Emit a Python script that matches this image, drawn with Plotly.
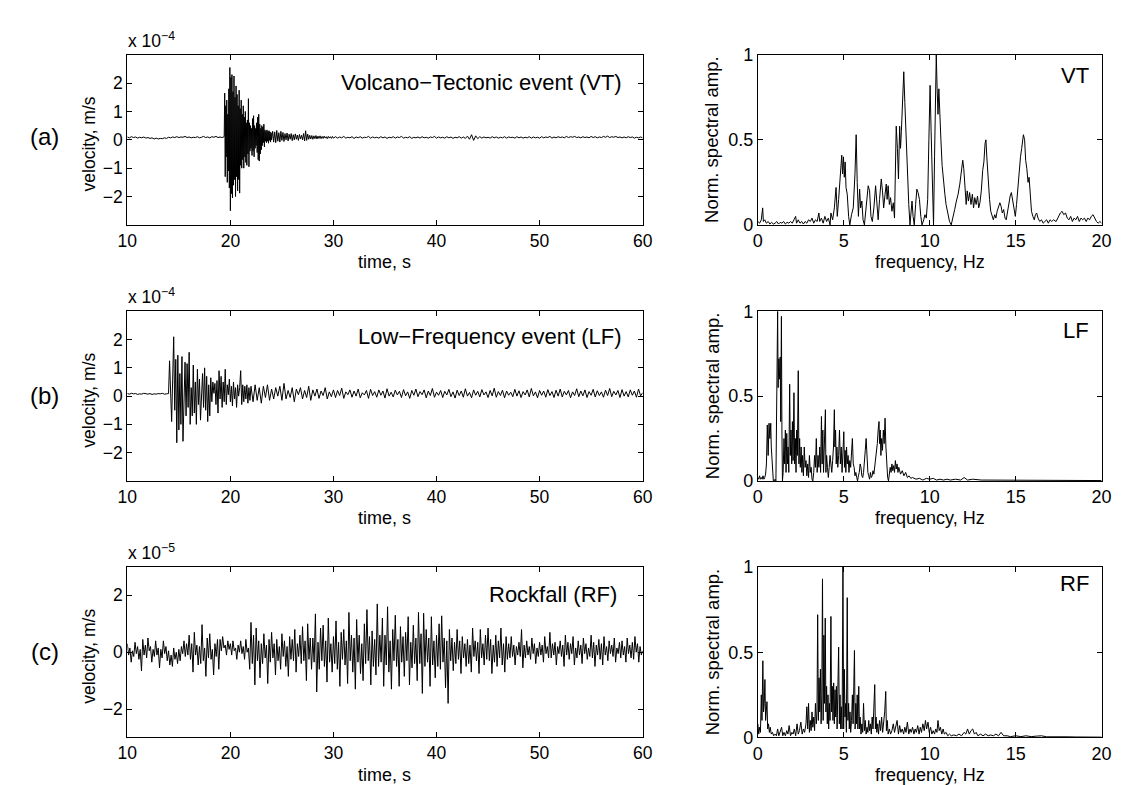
import plotly.graph_objects as go

WIDTH, HEIGHT = 1121, 785
FONT = 'Liberation Sans, Arial, Helvetica, sans-serif'

# ---- seismograms (velocity, VT/LF in 1e-4 m/s, RF in 1e-5 m/s) ----
# VT: 10.0-19.4 s every 0.2 s
vt_pre = [0.10, 0.07, 0.11, 0.08, 0.10, 0.06, 0.09, 0.07, 0.10, 0.06,
          0.08, 0.05, 0.07, 0.03, 0.06, 0.03, 0.05, 0.04, 0.07, 0.05,
          0.09, 0.07, 0.10, 0.08, 0.11, 0.08, 0.10, 0.09, 0.12, 0.08,
          0.10, 0.07, 0.09, 0.08, 0.11, 0.07, 0.09, 0.12, 0.08, 0.10,
          0.07, 0.11, 0.09, 0.12, 0.08, 0.10, 0.08, 0.11]
# VT: 19.45-24.0 s every 0.05 s
vt_burst = [1.65, -1.30, 1.20, -0.60, 1.40, -1.50, 0.90, -1.10, 1.80, -1.70,
            2.55, -2.50, 2.20, -1.90, 2.30, -2.05, 1.70, -1.60, 2.25, -1.40,
            1.50, -2.00, 1.90, -1.30, 1.60, -1.80, 1.20, -1.40, 1.75, -1.88,
            1.10, -0.90, 1.40, -1.00, 0.90, -0.70, 1.20, -1.00, 0.80, -0.60,
            1.00, -0.80, 0.60, -0.90, 0.70, -0.50, 1.45, -0.95, 0.60, -0.40,
            0.50, -0.30, 0.40, -0.55, 0.75, -0.40, 0.85, -0.60, 0.50, -0.30,
            0.40, -0.20, 0.60, -0.45, 0.80, -0.70, 0.90, -0.75, 0.55, -0.50,
            0.40, -0.35, 0.50, -0.20, 0.45, -0.10, 0.55, -0.25, 0.35, -0.05,
            0.30, -0.10, 0.35, -0.05, 0.30, -0.12, 0.32, -0.02, 0.28, -0.08,
            0.25, 0.00]
# VT: 24.1-30.0 s every 0.1 s
vt_coda = [0.30, -0.08, 0.28, -0.10, 0.33, -0.05, 0.25, -0.08, 0.30, -0.02,
           0.26, -0.06, 0.22, 0.00, 0.24, -0.04, 0.20, 0.02, 0.22, -0.03,
           0.18, 0.00, 0.21, 0.02, 0.17, -0.02, 0.19, 0.03, 0.16, 0.00,
           0.22, -0.04, 0.32, -0.02, 0.20, 0.02, 0.16, 0.03, 0.15, 0.02,
           0.14, 0.04, 0.15, 0.03, 0.13, 0.05, 0.14, 0.04, 0.12, 0.05,
           0.13, 0.06, 0.11, 0.04, 0.12, 0.06, 0.11, 0.05, 0.12, 0.06]
# VT: 30.2-60.0 s every 0.2 s
vt_post = [0.11, 0.06, 0.10, 0.07, 0.12, 0.06, 0.09, 0.07, 0.11, 0.05,
           0.10, 0.07, 0.11, 0.06, 0.09, 0.08, 0.12, 0.06, 0.10, 0.07,
           0.09, 0.06, 0.11, 0.07, 0.10, 0.05, 0.09, 0.07, 0.11, 0.06,
           0.10, 0.08, 0.12, 0.06, 0.09, 0.07, 0.11, 0.05, 0.09, 0.07,
           0.10, 0.06, 0.11, 0.07, 0.09, 0.06, 0.10, 0.08, 0.12, 0.06,
           0.10, 0.07, 0.09, 0.06, 0.11, 0.07, 0.10, 0.05, 0.09, 0.07,
           0.11, 0.06, 0.10, 0.05, 0.13, 0.02, 0.18, -0.02, 0.14, 0.04,
           0.11, 0.06, 0.10, 0.07, 0.09, 0.06, 0.11, 0.07, 0.10, 0.06,
           0.09, 0.07, 0.11, 0.06, 0.10, 0.08, 0.09, 0.06, 0.11, 0.07,
           0.10, 0.06, 0.09, 0.07, 0.11, 0.06, 0.10, 0.07, 0.09, 0.06,
           0.11, 0.07, 0.10, 0.08, 0.12, 0.06, 0.10, 0.07, 0.11, 0.08,
           0.10, 0.07, 0.12, 0.08, 0.11, 0.09, 0.12, 0.08, 0.10, 0.07,
           0.11, 0.08, 0.10, 0.07, 0.12, 0.08, 0.11, 0.07, 0.10, 0.08,
           0.12, 0.09, 0.13, 0.08, 0.11, 0.09, 0.12, 0.08, 0.10, 0.07,
           0.10, 0.07, 0.11, 0.08, 0.10, 0.06, 0.09, 0.07, 0.10, 0.07]

# LF: 10.0-14.0 s every 0.2 s
lf_pre = [0.09, 0.07, 0.10, 0.08, 0.09, 0.06, 0.08, 0.07, 0.10, 0.08,
          0.07, 0.09, 0.06, 0.08, 0.07, 0.09, 0.08, 0.10, 0.07, 0.08, 0.09]
# LF: 14.1-22.0 s every 0.1 s
lf_burst = [1.25, -0.30, -0.90, 0.60, 2.10, -0.50, 1.30, -1.65, 1.45,
            -1.20, 0.80, -1.00, 1.40, -1.60, 0.40, 1.20, -0.70, 1.15, -0.40,
            1.55, -1.00, 0.30, -0.70, 1.10, -0.60, 0.50, -1.00, 0.95, -0.30,
            0.60, -0.85, 0.20, 0.80, -0.40, 1.00, -0.50, 0.70, -0.90, 0.40,
            -0.70, 0.65, -0.20, 0.50, 0.10, 0.45, -0.30, 0.55, -0.60, 0.90,
            -0.10, 0.70, -0.40, 0.50, -0.20, 0.95, -0.30, 0.40, 0.05, 0.60,
            -0.20, 0.35, -0.35, 0.50, -0.10, 0.30, -0.40, 0.40, 0.00, 0.30,
            0.90, -0.30, 0.40, -0.20, 0.35, -0.10, 0.40, -0.25, 0.30, -0.15,
            0.35]
# LF: 22.2-60.0 s every 0.2 s
lf_coda = [-0.20, 0.40, -0.15, 0.30, -0.25, 0.35, -0.05, 0.40, -0.15, 0.25,
           -0.10, 0.30, 0.00, 0.35, -0.15, 0.45, -0.10, 0.20, -0.05, 0.30,
           -0.20, 0.25, 0.05, 0.30, -0.10, 0.20, -0.05, 0.35, -0.15, 0.22,
           0.00, 0.25, -0.08, 0.18, 0.02, 0.30, -0.10, 0.15, -0.02, 0.22,
           -0.05, 0.20, 0.02, 0.28, -0.08, 0.15, 0.05, 0.22, -0.04, 0.18,
           0.00, 0.25, -0.06, 0.12, 0.04, 0.20, -0.08, 0.24, 0.02, 0.16,
           -0.04, 0.22, 0.03, 0.18, -0.07, 0.26, 0.00, 0.14, -0.03, 0.21,
           0.04, 0.17, -0.05, 0.23, 0.01, 0.15, -0.08, 0.20, 0.03, 0.25,
           -0.02, 0.16, 0.05, 0.22, -0.06, 0.18, 0.02, 0.27, -0.04, 0.14,
           0.03, 0.20, -0.05, 0.17, 0.04, 0.24, -0.02, 0.15, -0.07, 0.21,
           0.02, 0.18, -0.04, 0.26, 0.00, 0.13, -0.06, 0.22, 0.03, 0.17,
           -0.03, 0.23, 0.04, 0.15, -0.05, 0.20, 0.01, 0.28, -0.04, 0.16,
           0.02, 0.21, -0.06, 0.18, 0.03, 0.14, -0.02, 0.24, 0.00, 0.19,
           -0.05, 0.16, 0.04, 0.22, -0.03, 0.27, 0.01, 0.15, -0.06, 0.20,
           0.03, 0.18, -0.04, 0.23, 0.02, 0.16, -0.05, 0.21, 0.00, 0.25,
           -0.03, 0.17, 0.04, 0.20, -0.06, 0.15, 0.02, 0.26, -0.02, 0.18,
           0.01, 0.22, -0.05, 0.16, 0.03, 0.24, -0.03, 0.19, 0.02, 0.15,
           -0.04, 0.21, 0.02, 0.27, -0.02, 0.17, 0.04, 0.20, -0.05, 0.23,
           0.00, 0.16, -0.03, 0.22, 0.03, 0.18, -0.04, 0.25, 0.01, 0.12]

# RF: 10.0-60.0 s every 0.125 s (one row per second)
rf_vel = [0.30, -0.10, 0.15, -0.35, 0.05, -0.15, 0.35, -0.05,
          0.20, -0.25, 0.10, -0.66, 0.45, -0.10, 0.25, -0.20,
          0.50, 0.05, 0.20, -0.35, 0.10, -0.15, 0.40, -0.10,
          0.15, -0.55, 0.10, -0.20, 0.40, -0.05, 0.20, -0.30,
          0.05, -0.45, -0.10, -0.50, 0.15, -0.25, 0.00, -0.40,
          0.10, -0.30, 0.20, -0.05, 0.40, -0.15, 0.30, -0.10,
          0.60, -0.25, 0.30, -0.70, 0.70, -0.10, 0.25, -0.45,
          0.20, -0.40, 0.97, -0.30, 0.15, -0.85, 0.50, -0.20,
          0.65, -0.25, 0.10, -0.80, 0.30, -0.15, 0.45, -0.60,
          0.45, 0.05, 0.55, 0.15, 0.25, -0.10, 0.40, 0.10,
          0.30, -0.10, 0.40, 0.05, 0.15, -0.25, 0.25, 0.00,
          0.40, -0.05, 0.20, -0.25, 0.45, 0.00, 0.15, -0.60,
          1.05, -0.40, 0.60, -1.15, 0.85, -0.30, 0.40, -0.90,
          0.30, -0.40, 0.65, -0.20, 0.25, -1.10, 0.45, -0.35,
          0.70, -0.20, 0.30, -0.80, 0.45, -0.30, 0.20, -0.60,
          0.65, -0.15, 0.40, -0.50, 0.20, -0.85, 0.55, -0.25,
          0.45, -0.30, 0.80, -0.70, 0.30, -0.15, 0.60, -0.40,
          0.90, -0.30, 0.40, -1.00, 1.00, -0.25, 0.50, -0.60,
          0.50, -0.35, 1.35, -1.40, 0.35, -0.60, 0.85, -0.30,
          0.95, -0.50, 0.40, -1.05, 1.20, -0.35, 0.30, -0.70,
          0.55, -0.40, 1.10, -0.60, 0.35, -1.20, 0.70, -0.25,
          0.80, -0.45, 0.40, -1.10, 1.40, -0.30, 0.60, -0.70,
          0.50, -1.30, 1.15, -0.35, 0.60, -0.75, 0.30, -1.00,
          1.00, -0.40, 1.50, -0.30, 0.55, -1.15, 0.75, -0.50,
          0.45, -0.80, 1.70, -0.50, 0.60, -0.35, 1.20, -1.20,
          0.60, -0.45, 1.60, -0.70, 0.40, -1.30, 0.80, -0.30,
          1.30, -0.50, 0.45, -1.20, 0.90, -0.35, 0.55, -0.85,
          0.70, -0.30, 1.25, -1.15, 0.35, -0.55, 0.95, -0.40,
          0.50, -1.00, 1.40, -0.40, 0.65, -1.45, 1.37, -0.50,
          0.80, -0.35, 0.50, -1.20, 1.25, -0.45, 0.40, -0.90,
          0.60, -0.50, 1.00, -0.60, 1.28, -0.35, 0.50, -1.25,
          0.40, -1.80, 0.80, -0.30, 0.50, -0.65, 0.35, -0.40,
          0.80, -0.25, 0.40, -0.75, 0.55, -0.20, 0.30, -0.50,
          0.45, -0.40, 0.25, -0.70, 0.85, -0.15, 0.40, -0.30,
          0.35, -0.75, 0.80, -0.20, 0.30, -0.45, 0.60, -0.25,
          0.85, -0.30, 0.45, -0.75, 0.25, -0.35, 0.60, -0.50,
          0.40, -0.20, 0.85, -0.45, 0.30, -0.70, 0.55, -0.25,
          0.30, -0.20, 0.55, -0.15, 0.25, -0.45, 0.20, -0.10,
          0.35, -0.15, 0.80, -0.55, 0.25, -0.20, 0.40, -0.10,
          0.20, -0.25, 0.50, -0.05, 0.30, -0.40, 0.15, -0.15,
          0.35, -0.10, 0.25, -0.35, 0.55, -0.05, 0.20, -0.20,
          0.70, -0.20, 0.30, -0.10, 0.35, -0.45, 0.20, -0.05,
          0.40, -0.15, 0.25, -0.50, 0.60, -0.10, 0.35, -0.25,
          0.30, -0.05, 0.55, -0.45, 0.15, -0.20, 0.40, -0.10,
          0.25, -0.40, 0.50, -0.05, 0.30, -0.25, 0.15, -0.15,
          0.60, -0.20, 0.35, -0.50, 0.25, -0.10, 0.45, -0.25,
          0.30, -0.45, 0.55, -0.10, 0.20, -0.30, 0.40, -0.05,
          0.25, -0.15, 0.50, -0.35, 0.15, -0.05, 0.35, -0.20,
          0.40, -0.10, 0.20, -0.35, 0.50, -0.05, 0.25, -0.20,
          0.35, -0.25, 0.55, 0.00, 0.30, -0.35, 0.20, -0.10,
          0.05]

# ---- normalised spectra ----
vt_freq = [0.00, 0.10, 0.20, 0.28, 0.32, 0.40, 0.50, 0.60, 0.70, 0.80,
           0.90, 1.00, 1.10, 1.20, 1.30, 1.40, 1.50, 1.60, 1.70, 1.80,
           1.90, 2.00, 2.10, 2.20, 2.25, 2.35, 2.45, 2.55, 2.65, 2.75,
           2.85, 2.95, 3.05, 3.15, 3.25, 3.35, 3.45, 3.55, 3.60, 3.70,
           3.80, 3.90, 4.00, 4.10, 4.20, 4.25, 4.35, 4.45, 4.55, 4.62,
           4.70, 4.80, 4.88, 4.93, 4.98, 5.03, 5.08, 5.13, 5.20, 5.28,
           5.35, 5.45, 5.55, 5.65, 5.72, 5.78, 5.85, 5.92, 5.98, 6.05,
           6.12, 6.20, 6.30, 6.42, 6.50, 6.58, 6.66, 6.75, 6.85, 6.92,
           7.00, 7.08, 7.18, 7.25, 7.32, 7.40, 7.47, 7.52, 7.58, 7.65,
           7.72, 7.80, 7.88, 7.95, 8.00, 8.05, 8.12, 8.18, 8.25, 8.30,
           8.35, 8.42, 8.49, 8.55, 8.62, 8.70, 8.78, 8.85, 8.92, 8.97,
           9.03, 9.10, 9.18, 9.25, 9.32, 9.40, 9.48, 9.55, 9.65, 9.72,
           9.80, 9.88, 9.95, 10.02, 10.08, 10.15, 10.22, 10.28, 10.34, 10.38,
           10.43, 10.48, 10.53, 10.58, 10.65, 10.72, 10.80, 10.88, 10.95, 11.05,
           11.15, 11.25, 11.35, 11.45, 11.55, 11.65, 11.75, 11.85, 11.92, 11.98,
           12.05, 12.12, 12.18, 12.25, 12.32, 12.40, 12.48, 12.55, 12.62, 12.70,
           12.78, 12.85, 12.92, 13.00, 13.08, 13.15, 13.22, 13.27, 13.32, 13.40,
           13.48, 13.55, 13.62, 13.70, 13.78, 13.85, 13.92, 14.00, 14.08, 14.15,
           14.22, 14.30, 14.38, 14.45, 14.52, 14.60, 14.68, 14.75, 14.82, 14.90,
           14.98, 15.05, 15.12, 15.20, 15.28, 15.35, 15.45, 15.52, 15.58, 15.65,
           15.72, 15.78, 15.85, 15.92, 16.00, 16.08, 16.15, 16.22, 16.30, 16.40,
           16.50, 16.60, 16.70, 16.80, 16.90, 17.00, 17.10, 17.20, 17.35, 17.50,
           17.60, 17.70, 17.80, 17.90, 18.00, 18.10, 18.20, 18.30, 18.40, 18.50,
           18.60, 18.70, 18.80, 18.90, 19.00, 19.10, 19.20, 19.30, 19.40, 19.50,
           19.60, 19.70, 19.80, 19.90, 20.00]
vt_amp = [0.02, 0.01, 0.03, 0.10, 0.02, 0.03, 0.01, 0.02, 0.005, 0.015,
          0.005, 0.01, 0.02, 0.005, 0.015, 0.01, 0.02, 0.005, 0.015, 0.01,
          0.02, 0.01, 0.03, 0.05, 0.01, 0.03, 0.01, 0.02, 0.005, 0.02,
          0.01, 0.03, 0.02, 0.04, 0.01, 0.03, 0.02, 0.07, 0.02, 0.04,
          0.01, 0.05, 0.02, 0.04, 0.00, 0.07, 0.03, 0.10, 0.22, 0.05,
          0.15, 0.30, 0.41, 0.30, 0.40, 0.28, 0.37, 0.22, 0.18, 0.05,
          0.00, 0.06, 0.10, 0.30, 0.53, 0.25, 0.05, 0.21, 0.10, 0.14,
          0.03, 0.00, 0.10, 0.23, 0.20, 0.05, 0.02, 0.10, 0.23, 0.15,
          0.03, 0.15, 0.27, 0.20, 0.10, 0.18, 0.24, 0.15, 0.23, 0.12,
          0.16, 0.08, 0.13, 0.04, 0.25, 0.58, 0.45, 0.27, 0.58, 0.45,
          0.55, 0.70, 0.90, 0.72, 0.50, 0.30, 0.12, 0.00, 0.08, 0.14,
          0.05, 0.00, 0.12, 0.21, 0.19, 0.15, 0.05, 0.00, 0.03, 0.06,
          0.04, 0.15, 0.50, 0.82, 0.55, 0.15, 0.00, 0.40, 0.75, 1.00,
          0.80, 0.65, 0.80, 0.62, 0.50, 0.35, 0.25, 0.18, 0.12, 0.06,
          0.02, 0.00, 0.04, 0.09, 0.14, 0.18, 0.24, 0.32, 0.38, 0.33,
          0.20, 0.12, 0.20, 0.14, 0.19, 0.12, 0.18, 0.10, 0.16, 0.12,
          0.17, 0.10, 0.13, 0.20, 0.32, 0.37, 0.48, 0.50, 0.40, 0.25,
          0.15, 0.08, 0.05, 0.03, 0.06, 0.04, 0.08, 0.10, 0.13, 0.11,
          0.07, 0.09, 0.04, 0.03, 0.08, 0.14, 0.17, 0.19, 0.15, 0.08,
          0.05, 0.12, 0.22, 0.33, 0.40, 0.45, 0.53, 0.50, 0.38, 0.33,
          0.25, 0.28, 0.15, 0.08, 0.05, 0.03, 0.06, 0.07, 0.04, 0.02,
          0.03, 0.01, 0.02, 0.03, 0.01, 0.03, 0.02, 0.03, 0.02, 0.05,
          0.07, 0.08, 0.06, 0.07, 0.04, 0.03, 0.05, 0.02, 0.04, 0.03,
          0.05, 0.02, 0.04, 0.03, 0.04, 0.02, 0.04, 0.03, 0.05, 0.06,
          0.04, 0.02, 0.01, 0.02, 0.01]

lf_freq = [0.00, 0.05, 0.10, 0.15, 0.20, 0.25, 0.30, 0.35, 0.40, 0.45,
           0.50, 0.55, 0.60, 0.65, 0.70, 0.75, 0.78, 0.82, 0.86, 0.90,
           0.95, 1.00, 1.05, 1.10, 1.15, 1.18, 1.22, 1.26, 1.30, 1.33,
           1.37, 1.40, 1.43, 1.47, 1.52, 1.56, 1.60, 1.64, 1.68, 1.72,
           1.76, 1.80, 1.85, 1.89, 1.93, 1.97, 2.01, 2.05, 2.10, 2.14,
           2.18, 2.22, 2.26, 2.30, 2.35, 2.39, 2.43, 2.47, 2.52, 2.56,
           2.60, 2.65, 2.70, 2.75, 2.80, 2.85, 2.90, 2.95, 3.00, 3.05,
           3.10, 3.15, 3.20, 3.25, 3.30, 3.35, 3.40, 3.45, 3.50, 3.55,
           3.60, 3.65, 3.70, 3.74, 3.78, 3.82, 3.86, 3.90, 3.93, 3.96,
           4.00, 4.05, 4.10, 4.15, 4.20, 4.25, 4.30, 4.35, 4.40, 4.45,
           4.48, 4.52, 4.56, 4.60, 4.65, 4.70, 4.75, 4.80, 4.85, 4.90,
           4.95, 5.00, 5.04, 5.08, 5.12, 5.16, 5.20, 5.25, 5.30, 5.35,
           5.40, 5.45, 5.50, 5.55, 5.60, 5.65, 5.70, 5.75, 5.80, 5.85,
           5.90, 5.95, 6.00, 6.05, 6.10, 6.15, 6.20, 6.25, 6.30, 6.35,
           6.40, 6.45, 6.50, 6.55, 6.60, 6.65, 6.70, 6.75, 6.80, 6.85,
           6.90, 6.95, 7.00, 7.05, 7.08, 7.12, 7.16, 7.20, 7.25, 7.30,
           7.35, 7.40, 7.45, 7.50, 7.55, 7.60, 7.65, 7.70, 7.75, 7.80,
           7.85, 7.90, 7.95, 8.00, 8.05, 8.10, 8.15, 8.20, 8.30, 8.40,
           8.50, 8.60, 8.70, 8.80, 8.90, 9.00, 9.20, 9.40, 9.60, 9.80,
           10.00, 10.20, 10.40, 10.60, 10.80, 11.00, 11.20, 11.50, 11.80, 12.00,
           12.20, 12.50, 13.00, 13.50, 14.00, 14.50, 15.00, 16.00, 17.00, 18.00,
           19.00, 20.00]
lf_amp = [0.02, 0.01, 0.03, 0.01, 0.02, 0.01, 0.03, 0.01, 0.02, 0.04,
          0.10, 0.33, 0.15, 0.34, 0.25, 0.34, 0.20, 0.10, 0.03, 0.00,
          0.00, 0.01, 0.00, 0.50, 1.00, 0.55, 0.72, 0.60, 0.73, 0.35,
          0.97, 0.30, 0.00, 0.05, 0.25, 0.10, 0.30, 0.05, 0.28, 0.10,
          0.20, 0.05, 0.57, 0.15, 0.30, 0.10, 0.35, 0.12, 0.52, 0.10,
          0.25, 0.05, 0.30, 0.15, 0.65, 0.10, 0.25, 0.08, 0.20, 0.05,
          0.15, 0.03, 0.20, 0.08, 0.12, 0.03, 0.10, 0.02, 0.15, 0.05,
          0.08, 0.01, 0.00, 0.05, 0.15, 0.08, 0.25, 0.05, 0.15, 0.08,
          0.20, 0.05, 0.38, 0.10, 0.30, 0.05, 0.20, 0.37, 0.42, 0.05,
          0.15, 0.08, 0.02, 0.08, 0.15, 0.10, 0.05, 0.12, 0.20, 0.42,
          0.20, 0.30, 0.10, 0.20, 0.08, 0.15, 0.30, 0.10, 0.20, 0.05,
          0.15, 0.29, 0.08, 0.18, 0.05, 0.20, 0.10, 0.15, 0.05, 0.12,
          0.08, 0.18, 0.25, 0.10, 0.08, 0.03, 0.05, 0.02, 0.00, 0.03,
          0.05, 0.10, 0.08, 0.03, 0.02, 0.05, 0.10, 0.18, 0.25, 0.10,
          0.05, 0.03, 0.01, 0.05, 0.02, 0.03, 0.06, 0.04, 0.08, 0.12,
          0.18, 0.22, 0.30, 0.35, 0.22, 0.30, 0.15, 0.25, 0.18, 0.30,
          0.22, 0.37, 0.20, 0.08, 0.02, 0.00, 0.04, 0.08, 0.05, 0.10,
          0.06, 0.09, 0.05, 0.12, 0.07, 0.10, 0.05, 0.08, 0.04, 0.06,
          0.03, 0.05, 0.02, 0.03, 0.015, 0.02, 0.01, 0.015, 0.005, 0.015,
          0.01, 0.015, 0.005, 0.01, 0.005, 0.01, 0.005, 0.01, 0.005, 0.02,
          0.005, 0.01, 0.005, 0.005, 0.003, 0.005, 0.003, 0.003, 0.002, 0.003,
          0.002, 0.002]

rf_freq = [0.00, 0.05, 0.10, 0.15, 0.20, 0.24, 0.29, 0.33, 0.37, 0.41,
           0.45, 0.49, 0.53, 0.57, 0.62, 0.67, 0.72, 0.78, 0.85, 0.92,
           1.00, 1.08, 1.15, 1.22, 1.30, 1.38, 1.45, 1.52, 1.60, 1.68,
           1.75, 1.82, 1.90, 1.98, 2.05, 2.12, 2.20, 2.28, 2.35, 2.42,
           2.50, 2.58, 2.65, 2.72, 2.80, 2.85, 2.90, 2.95, 3.00, 3.05,
           3.10, 3.15, 3.20, 3.25, 3.30, 3.35, 3.40, 3.44, 3.48, 3.52,
           3.56, 3.60, 3.64, 3.68, 3.72, 3.76, 3.80, 3.84, 3.88, 3.92,
           3.96, 4.00, 4.04, 4.08, 4.12, 4.16, 4.20, 4.25, 4.29, 4.33,
           4.37, 4.41, 4.45, 4.49, 4.53, 4.57, 4.61, 4.65, 4.70, 4.74,
           4.78, 4.82, 4.86, 4.90, 4.95, 4.99, 5.03, 5.07, 5.11, 5.15,
           5.20, 5.24, 5.28, 5.32, 5.36, 5.40, 5.45, 5.50, 5.54, 5.58,
           5.62, 5.66, 5.70, 5.74, 5.78, 5.82, 5.87, 5.91, 5.95, 6.00,
           6.05, 6.10, 6.15, 6.20, 6.25, 6.30, 6.35, 6.40, 6.45, 6.50,
           6.55, 6.60, 6.65, 6.70, 6.75, 6.80, 6.84, 6.88, 6.92, 6.97,
           7.02, 7.08, 7.14, 7.20, 7.26, 7.32, 7.38, 7.44, 7.48, 7.53,
           7.58, 7.65, 7.72, 7.80, 7.88, 7.95, 8.02, 8.10, 8.18, 8.25,
           8.32, 8.40, 8.48, 8.55, 8.62, 8.70, 8.78, 8.85, 8.92, 9.00,
           9.08, 9.15, 9.22, 9.30, 9.38, 9.45, 9.52, 9.60, 9.68, 9.75,
           9.82, 9.90, 9.97, 10.05, 10.12, 10.20, 10.28, 10.35, 10.42, 10.48,
           10.55, 10.62, 10.70, 10.78, 10.85, 10.95, 11.05, 11.15, 11.25, 11.40,
           11.55, 11.70, 11.85, 12.00, 12.10, 12.20, 12.30, 12.40, 12.50, 12.60,
           12.70, 12.80, 12.95, 13.10, 13.25, 13.40, 13.55, 13.70, 13.85, 14.00,
           14.15, 14.30, 14.50, 14.70, 15.00, 15.30, 15.60, 15.90, 16.20, 16.50,
           16.80, 17.20, 17.60, 18.00, 18.50, 19.00, 19.50, 20.00]
rf_amp = [0.08, 0.02, 0.06, 0.03, 0.25, 0.10, 0.45, 0.15, 0.20, 0.34,
          0.10, 0.15, 0.21, 0.05, 0.08, 0.03, 0.06, 0.02, 0.03, 0.01,
          0.02, 0.01, 0.05, 0.01, 0.03, 0.06, 0.01, 0.03, 0.01, 0.04,
          0.02, 0.07, 0.01, 0.03, 0.02, 0.05, 0.01, 0.08, 0.02, 0.04,
          0.09, 0.02, 0.05, 0.03, 0.08, 0.18, 0.05, 0.20, 0.03, 0.10,
          0.04, 0.15, 0.06, 0.12, 0.04, 0.20, 0.08, 0.15, 0.72, 0.10,
          0.35, 0.15, 0.40, 0.08, 0.25, 0.93, 0.10, 0.60, 0.20, 0.70,
          0.15, 0.30, 0.08, 0.25, 0.05, 0.20, 0.10, 0.71, 0.15, 0.30,
          0.10, 0.32, 0.08, 0.28, 0.12, 0.30, 0.05, 0.20, 0.53, 0.08,
          0.25, 0.05, 0.18, 0.05, 1.00, 0.05, 0.40, 0.12, 0.20, 0.03,
          0.82, 0.10, 0.20, 0.05, 0.15, 0.03, 0.10, 0.25, 0.08, 0.30,
          0.51, 0.05, 0.20, 0.08, 0.25, 0.05, 0.30, 0.05, 0.12, 0.02,
          0.08, 0.03, 0.20, 0.04, 0.10, 0.02, 0.06, 0.03, 0.10, 0.04,
          0.08, 0.02, 0.12, 0.05, 0.15, 0.31, 0.05, 0.12, 0.03, 0.08,
          0.02, 0.10, 0.04, 0.12, 0.03, 0.08, 0.15, 0.27, 0.04, 0.10,
          0.02, 0.05, 0.02, 0.04, 0.08, 0.03, 0.06, 0.10, 0.02, 0.07,
          0.03, 0.05, 0.02, 0.06, 0.03, 0.09, 0.02, 0.05, 0.03, 0.06,
          0.02, 0.05, 0.03, 0.07, 0.02, 0.06, 0.03, 0.08, 0.04, 0.10,
          0.05, 0.09, 0.03, 0.06, 0.02, 0.04, 0.02, 0.05, 0.03, 0.10,
          0.04, 0.06, 0.02, 0.05, 0.02, 0.03, 0.01, 0.02, 0.01, 0.015,
          0.01, 0.02, 0.01, 0.03, 0.02, 0.05, 0.02, 0.04, 0.05, 0.02,
          0.03, 0.01, 0.02, 0.01, 0.02, 0.01, 0.015, 0.01, 0.02, 0.01,
          0.03, 0.01, 0.01, 0.005, 0.01, 0.005, 0.01, 0.005, 0.008, 0.01,
          0.004, 0.005, 0.003, 0.004, 0.003, 0.004, 0.003, 0.002]

time_ticks = [10, 20, 30, 40, 50, 60]
freq_ticks = [0, 5, 10, 15, 20]
amp_ticks = [0, 0.5, 1]


def sample_times(start, step, values):
    return [round(start + i * step, 4) for i in range(len(values))]


vt_time = (sample_times(10.0, 0.2, vt_pre) + sample_times(19.45, 0.05, vt_burst)
           + sample_times(24.1, 0.1, vt_coda) + sample_times(30.2, 0.2, vt_post))
vt_vel = vt_pre + vt_burst + vt_coda + vt_post
lf_time = (sample_times(10.0, 0.2, lf_pre) + sample_times(14.1, 0.1, lf_burst)
           + sample_times(22.2, 0.2, lf_coda))
lf_vel = lf_pre + lf_burst + lf_coda
rf_time = sample_times(10.0, 0.125, rf_vel)


# layout helpers (pixel -> paper)
def px_x(x):
    return x / WIDTH


def px_y(y):
    return 1 - y / HEIGHT


LEFT = (111.3, 636.0)
RIGHT = (753.3, 1103.3)
ROWS = [(37.7, 212.3), (301.0, 475.0), (563.3, 738.3)]


def axis(domain, rng, tickvals, anchor, size=17.5):
    return dict(
        domain=domain, range=rng, tickvals=tickvals, anchor=anchor,
        showline=True, linecolor='black', linewidth=1, mirror='allticks',
        ticks='inside', ticklen=5, tickwidth=1, tickcolor='black',
        showgrid=False, zeroline=False, fixedrange=True,
        tickfont=dict(family=FONT, size=size, color='black'),
    )


def text(x, y, s, size, xanchor='center', yanchor='middle', angle=0):
    return dict(
        x=px_x(x), y=px_y(y), xref='paper', yref='paper', text=s,
        showarrow=False, xanchor=xanchor, yanchor=yanchor, textangle=angle,
        font=dict(family=FONT, size=size, color='black'),
    )


fig = go.Figure()
line = dict(color='black', width=1)
series = [
    (vt_time, vt_vel, 'x', 'y'),
    (vt_freq, vt_amp, 'x2', 'y2'),
    (lf_time, lf_vel, 'x3', 'y3'),
    (lf_freq, lf_amp, 'x4', 'y4'),
    (rf_time, rf_vel, 'x5', 'y5'),
    (rf_freq, rf_amp, 'x6', 'y6'),
]
for xs, ys, xa, ya in series:
    fig.add_trace(go.Scatter(x=xs, y=ys, mode='lines', line=line,
                             xaxis=xa, yaxis=ya, hoverinfo='skip'))

layout = {}
vel_ticks = [[-2, -1, 0, 1, 2], [-2, -1, 0, 1, 2], [-2, 0, 2]]
for i, (top, bottom) in enumerate(ROWS):
    ydom = [px_y(bottom), px_y(top)]
    n_left = 2 * i + 1
    n_right = 2 * i + 2
    sl = '' if n_left == 1 else str(n_left)
    sr = str(n_right)
    layout['xaxis' + sl] = axis([px_x(LEFT[0]), px_x(LEFT[1])], [10, 60], time_ticks, 'y' + sl)
    layout['yaxis' + sl] = axis(ydom, [-3, 3], vel_ticks[i], 'x' + sl)
    layout['xaxis' + sr] = axis([px_x(RIGHT[0]), px_x(RIGHT[1])], [0, 20], freq_ticks, 'y' + sr, 18)
    layout['yaxis' + sr] = axis(ydom, [0, 1], amp_ticks, 'x' + sr, 18)

annotations = []
panel_tags = ['(a)', '(b)', '(c)']
tag_y = [122, 387, 650]
exponents = ['\u22124', '\u22124', '\u22125']
events = ['Volcano\u2212Tectonic event (VT)', 'Low\u2212Frequency event (LF)', 'Rockfall (RF)']
event_x = [617, 617, 612]
event_y = [66, 327, 592]
short = ['VT', 'LF', 'RF']
short_y = [59, 321, 580]
for i, (top, bottom) in enumerate(ROWS):
    mid = (top + bottom) / 2
    annotations.append(text(27, tag_y[i], panel_tags[i], 24))
    annotations.append(text(72, mid + 4, 'velocity, m/s', 17.5, angle=-90))
    annotations.append(text(706.7, mid, 'Norm. spectral amp.', 18.5, angle=-90))
    annotations.append(text((LEFT[0] + LEFT[1]) / 2, bottom + 38, 'time, s', 18))
    annotations.append(text((RIGHT[0] + RIGHT[1]) / 2, bottom + 38.5, 'frequency, Hz', 18))
    annotations.append(text(110, top - 2, 'x 10<sup>' + exponents[i] + '</sup>', 17.5,
                            xanchor='left', yanchor='bottom'))
    annotations.append(text(event_x[i], event_y[i], events[i], 22, xanchor='right'))
    annotations.append(text(1093, short_y[i], short[i], 22, xanchor='right'))

fig.update_layout(
    width=WIDTH, height=HEIGHT,
    margin=dict(l=0, r=0, t=0, b=0),
    paper_bgcolor='white', plot_bgcolor='white',
    showlegend=False,
    font=dict(family=FONT, color='black'),
    annotations=annotations,
    **layout,
)

fig.write_html('out.html')
